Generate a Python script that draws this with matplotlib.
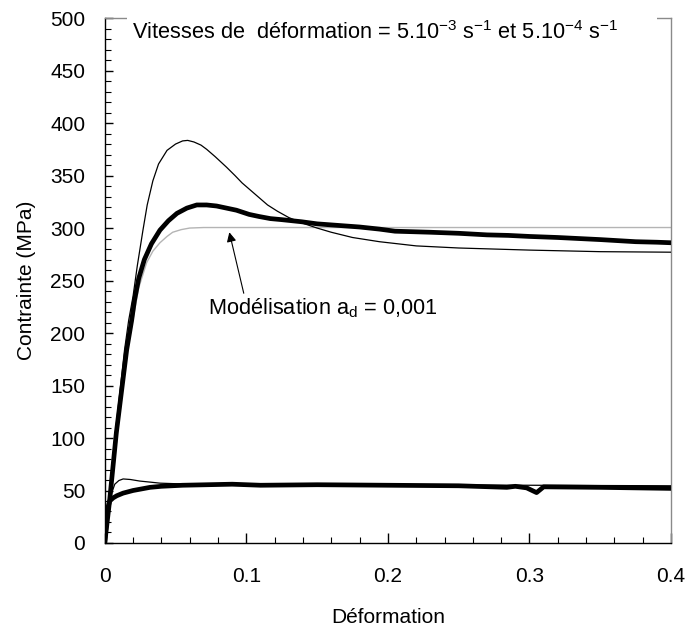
import matplotlib
matplotlib.use("Agg")
import matplotlib.pyplot as plt
from matplotlib.patches import Rectangle
from matplotlib.ticker import MultipleLocator

plt.rcParams['font.family'] = ['Liberation Sans', 'DejaVu Sans']
plt.rcParams['mathtext.fontset'] = 'custom'
plt.rcParams['mathtext.rm'] = 'Liberation Sans'

FS = 15
FS_TEXT = 15.7

# --- data (strain, stress in MPa) ---
# fast rate (5.10-3 s-1), model, thin black
fast_model_x = [0, 0.003, 0.0075, 0.014, 0.0169, 0.020, 0.023, 0.027, 0.030, 0.034,
                0.038, 0.044, 0.050, 0.055, 0.0586, 0.063, 0.068, 0.072, 0.078, 0.086,
                0.092, 0.097, 0.103, 0.109, 0.115, 0.122, 0.130, 0.139, 0.150, 0.160,
                0.175, 0.194, 0.220, 0.250, 0.300, 0.350, 0.400]
fast_model_y = [0, 41, 105, 184, 212, 235, 264, 298, 322, 345,
                361, 374, 380, 383, 383.5, 382, 379, 375, 368, 358,
                350, 343, 336, 329, 322, 316, 310, 305, 300, 296,
                291, 287, 283, 281, 279, 277.5, 277]

# fast rate, experiment, thick black
fast_exp_x = [0, 0.0035, 0.0082, 0.0155, 0.019, 0.021, 0.024, 0.028, 0.033, 0.039,
              0.045, 0.051, 0.058, 0.065, 0.072, 0.079, 0.086, 0.093, 0.102, 0.109,
              0.117, 0.125, 0.139, 0.150, 0.160, 0.180, 0.194, 0.205, 0.230, 0.250,
              0.270, 0.285, 0.300, 0.320, 0.335, 0.350, 0.375, 0.390, 0.400]
fast_exp_y = [0, 41, 105, 184, 212, 231, 252, 270, 285, 298,
              307, 314, 319, 322, 322, 321, 319, 317, 313, 311,
              309, 308, 306, 304, 303, 301, 299, 297, 296, 295,
              293.5, 293, 292, 291, 290, 289, 287, 286.5, 286]

# fast rate, model a_d = 0,001, grey
grey_model_x = [0, 0.004, 0.009, 0.016, 0.0198, 0.024, 0.0296, 0.034, 0.039, 0.044,
                0.048, 0.054, 0.060, 0.070, 0.150, 0.250, 0.400]
grey_model_y = [0, 41, 105, 184, 212, 243, 267, 278, 286, 292,
                296, 298.5, 300, 300.5, 300.5, 300.5, 300.5]

# slow rate (5.10-4 s-1), model, thin black
slow_model_x = [0, 0.0015, 0.003, 0.005, 0.0071, 0.010, 0.013, 0.018, 0.0247, 0.032,
                0.039, 0.060, 0.100, 0.200, 0.300, 0.400]
slow_model_y = [0, 20, 35, 48, 56, 59.5, 61, 60.5, 59, 58,
                57, 56, 56, 55.5, 55, 54.5]

# slow rate, experiment, thick black
slow_exp_x = [0, 0.0014, 0.0025, 0.0035, 0.006, 0.0085, 0.013, 0.020, 0.026, 0.032,
              0.040, 0.055, 0.090, 0.110, 0.150, 0.200, 0.250, 0.284, 0.290, 0.298,
              0.305, 0.310, 0.350, 0.400]
slow_exp_y = [0, 25, 35, 40, 43, 45, 47.5, 50, 51.5, 53,
              54, 55, 56, 55, 55.5, 55, 54.5, 53, 54, 52.5,
              48, 53.5, 53, 52]

fig = plt.figure(figsize=(6.89, 6.26), dpi=100)
ax = fig.add_axes([0.152, 0.1326, 0.822, 0.8385])

ax.plot(grey_model_x, grey_model_y, color='#b4b4b4', lw=1.0, zorder=2)
ax.plot(fast_exp_x, fast_exp_y, color='black', lw=3.4, zorder=3, solid_joinstyle='round')
ax.plot(fast_model_x, fast_model_y, color='black', lw=0.9, zorder=4)
ax.plot(slow_exp_x, slow_exp_y, color='black', lw=3.4, zorder=3, solid_joinstyle='round')
ax.plot(slow_model_x, slow_model_y, color='black', lw=0.9, zorder=4)

ax.set_xlim(0, 0.4)
ax.set_ylim(0, 500)
ax.set_xticks([0, 0.1, 0.2, 0.3, 0.4])
ax.set_xticklabels(['0', '0.1', '0.2', '0.3', '0.4'])
ax.xaxis.set_minor_locator(MultipleLocator(0.02))
ax.yaxis.set_major_locator(MultipleLocator(50))
ax.yaxis.set_minor_locator(MultipleLocator(10))

ax.tick_params(which='both', direction='in', top=False, right=False, labelsize=FS)
ax.tick_params(axis='y', which='major', length=6, width=1, pad=14)
ax.tick_params(axis='y', which='minor', length=4, width=0.8)
ax.tick_params(axis='x', which='major', length=7, width=1, pad=17)
ax.tick_params(axis='x', which='minor', length=4, width=0.8)

for side in ['left', 'bottom']:
    ax.spines[side].set_color('black')
    ax.spines[side].set_linewidth(1.0)
for side in ['top', 'right']:
    ax.spines[side].set_color('#8a8a8a')
    ax.spines[side].set_linewidth(1.0)

ax.set_xlabel('Déformation', fontsize=FS, labelpad=16)
ax.set_ylabel('Contrainte (MPa)', fontsize=FS, labelpad=10)

# white box behind the rate text hides part of the top spine
ax.add_patch(Rectangle((0.039, 0.94), 0.936, 0.08, transform=ax.transAxes,
                       facecolor='white', edgecolor='none', clip_on=False, zorder=5))
ax.text(0.019, 486, 'Vitesses de  déformation = 5.10$^{\\mathrm{-3}}$ s$^{\\mathrm{-1}}$ '
        'et 5.10$^{\\mathrm{-4}}$ s$^{\\mathrm{-1}}$',
        fontsize=FS_TEXT, va='center', ha='left', zorder=6)

ax.annotate('Modélisation a$_\\mathrm{d}$ = 0,001', xy=(0.088, 296), xytext=(0.0727, 224),
            fontsize=FS_TEXT, va='center', ha='left',
            arrowprops=dict(arrowstyle='-|>', color='black', lw=0.8,
                            shrinkA=0, shrinkB=0, mutation_scale=14,
                            relpos=(0.16, 1.0)))

fig.savefig('out.png', dpi=100)
